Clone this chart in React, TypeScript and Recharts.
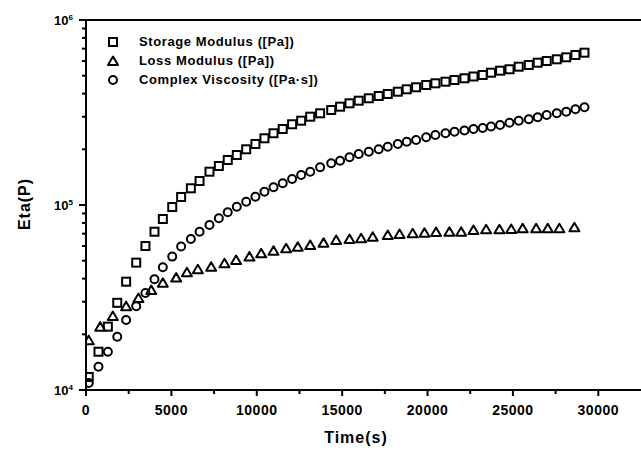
import { ScatterChart, Scatter, XAxis, YAxis, Legend, ReferenceLine } from 'recharts';

// time (s) shared by storage modulus and complex viscosity
const sampleTime = [
  160, 730, 1280, 1830, 2350, 2940, 3480, 4010, 4500, 5050,
  5570, 6140, 6650, 7230, 7780, 8300, 8830, 9380, 9920, 10450,
  10980, 11520, 12070, 12600, 13130, 13710, 14360, 14880, 15430, 15970,
  16560, 17140, 17670, 18260, 18780, 19330, 19920, 20460, 21050, 21580,
  22160, 22690, 23230, 23720, 24250, 24800, 25340, 25930, 26450, 26980,
  27570, 28120, 28660, 29190,
];

const storageModulus = [
  11760, 16100, 22000, 29600, 38500, 48800, 60000, 71700, 84000, 97500,
  110500, 123100, 134800, 151400, 162500, 175100, 186300, 200000, 213700, 229400,
  244200, 257500, 273100, 285600, 300200, 313100, 326200, 340000, 354600, 366300,
  377400, 388400, 398100, 409700, 422100, 432800, 445300, 454800, 464000, 473900,
  484100, 495000, 504400, 519000, 532100, 541500, 559300, 571300, 587800, 600200,
  613100, 628500, 646900, 665700,
];

const complexViscosity = [
  10910, 13360, 16100, 19410, 23900, 28400, 33450, 39670, 46050, 52600,
  59650, 65500, 71700, 77960, 84770, 91310, 97900, 104200, 110900, 118000,
  124600, 131000, 138200, 145300, 151400, 160100, 168000, 173600, 181100, 188700,
  194200, 200000, 206600, 213700, 219900, 224600, 232300, 239000, 244200, 249000,
  252700, 257500, 260800, 265700, 270700, 278600, 285600, 290600, 298000, 306600,
  313100, 319400, 329100, 337400,
];

const lossTime = [
  160, 830, 1570, 2350, 3070, 3820, 4500, 5280, 5910, 6550,
  7330, 8110, 8790, 9570, 10260, 10980, 11720, 12400, 13130, 13910,
  14650, 15430, 16110, 16790, 17670, 18360, 19130, 19820, 20500, 21280,
  21970, 22690, 23430, 24210, 24900, 25570, 26360, 27040, 27720, 28600,
];

const lossModulus = [
  18600, 22000, 25100, 28400, 31400, 34700, 38000, 40500, 43300, 44900,
  46400, 48400, 50400, 52600, 54800, 56600, 58300, 59500, 60800, 62500,
  64700, 65500, 66100, 67400, 68900, 69700, 70300, 70800, 71500, 71700,
  71700, 73300, 73900, 73900, 74200, 74800, 74800, 74800, 74800, 75800,
];

const seriesNames = ['Storage Modulus ([Pa])', 'Loss Modulus ([Pa])', 'Complex Viscosity ([Pa·s])'];

const xTicks = [0, 2500, 5000, 7500, 10000, 12500, 15000, 17500, 20000, 22500, 25000, 27500, 30000];
const yTicks = [
  10000, 20000, 30000, 40000, 50000, 60000, 70000, 80000, 90000,
  100000, 200000, 300000, 400000, 500000, 600000, 700000, 800000, 900000,
  1000000,
];

const storageData = sampleTime.map((t, i) => ({ t, v: storageModulus[i] }));
const complexData = sampleTime.map((t, i) => ({ t, v: complexViscosity[i] }));
const lossData = lossTime.map((t, i) => ({ t, v: lossModulus[i] }));

const FONT = '"Liberation Sans", Arial, sans-serif';

const Square = ({ cx, cy }: any) => (
  <rect x={cx - 4} y={cy - 4} width={8} height={8} fill="none" stroke="#000" strokeWidth={2} />
);
const Circle = ({ cx, cy }: any) => (
  <circle cx={cx} cy={cy} r={4} fill="none" stroke="#000" strokeWidth={2} />
);
const Triangle = ({ cx, cy }: any) => (
  <path d={`M${cx},${cy - 4.5}L${cx + 5},${cy + 4}L${cx - 5},${cy + 4}Z`} fill="none" stroke="#000" strokeWidth={2} strokeLinejoin="round" />
);

const legendShapes = [Square, Triangle, Circle];

// legend drawn in the order of the original figure
const LegendBox = () => (
  <div style={{ fontFamily: FONT, fontWeight: 700, fontSize: 13, letterSpacing: 0.6, color: '#000' }}>
    {seriesNames.map((name, i) => {
      const Mark = legendShapes[i];
      return (
        <div key={name} style={{ display: 'flex', alignItems: 'center', height: 19 }}>
          <svg width={14} height={14}>
            <Mark cx={7} cy={7} />
          </svg>
          <span style={{ marginLeft: 19, whiteSpace: 'nowrap' }}>{name}</span>
        </div>
      );
    })}
  </div>
);

const YTick = ({ x, y, payload }: any) => {
  const lg = Math.log10(payload.value);
  const exp = Math.round(lg);
  const major = Math.abs(lg - exp) < 1e-6;
  return (
    <g>
      <line x1={x} x2={x - (major ? 7 : 4)} y1={y} y2={y} stroke="#000" strokeWidth={2} />
      {major && (
        <text x={x - 13} y={y + 5} textAnchor="end" fontFamily={FONT} fontWeight={700} fontSize={13} fill="#000">
          10<tspan dy={-5} fontSize={8}>{exp}</tspan>
        </text>
      )}
    </g>
  );
};

const XTick = ({ x, y, payload }: any) => {
  const major = payload.value % 5000 === 0;
  return (
    <g>
      <line x1={x} x2={x} y1={y} y2={y + (major ? 6 : 4)} stroke="#000" strokeWidth={2} />
      {major && (
        <text x={x} y={y + 25} textAnchor="middle" fontFamily={FONT} fontWeight={700} fontSize={14} letterSpacing={0.5} fill="#000">
          {payload.value}
        </text>
      )}
    </g>
  );
};

export default function App() {
  return (
    <div style={{ position: 'absolute', left: 0, top: 0, background: '#fff' }}>
      <ScatterChart width={641} height={450} margin={{ top: 20, right: 0, bottom: 0, left: 0 }}>
        <XAxis
          type="number"
          dataKey="t"
          domain={[0, 32500]}
          allowDataOverflow
          ticks={xTicks}
          interval={0}
          tick={<XTick />}
          tickLine={false}
          tickSize={0}
          tickMargin={0}
          height={60}
          axisLine={{ stroke: '#000', strokeWidth: 2 }}
          label={{
            content: () => (
              <text x={356} y={443} textAnchor="middle" fontFamily={FONT} fontWeight={700} fontSize={16} letterSpacing={1} fill="#000">
                Time(s)
              </text>
            ),
          }}
        />
        <YAxis
          type="number"
          dataKey="v"
          scale="log"
          domain={[10000, 1000000]}
          allowDataOverflow
          ticks={yTicks}
          interval={0}
          tick={<YTick />}
          tickLine={false}
          tickSize={0}
          tickMargin={0}
          width={86}
          axisLine={{ stroke: '#000', strokeWidth: 2 }}
          label={{
            content: () => (
              <text transform="translate(30,204) rotate(-90)" textAnchor="middle" fontFamily={FONT} fontWeight={700} fontSize={16} letterSpacing={1} fill="#000">
                Eta(P)
              </text>
            ),
          }}
        />
        <ReferenceLine y={1000000} stroke="#000" strokeWidth={2} />
        <Legend
          layout="vertical"
          align="center"
          verticalAlign="middle"
          content={<LegendBox />}
          wrapperStyle={{ left: 106, top: 32, width: 'auto' }}
        />
        <Scatter name={seriesNames[0]} data={storageData} shape={Square} isAnimationActive={false} />
        <Scatter name={seriesNames[1]} data={lossData} shape={Triangle} isAnimationActive={false} />
        <Scatter name={seriesNames[2]} data={complexData} shape={Circle} isAnimationActive={false} />
      </ScatterChart>
    </div>
  );
}
